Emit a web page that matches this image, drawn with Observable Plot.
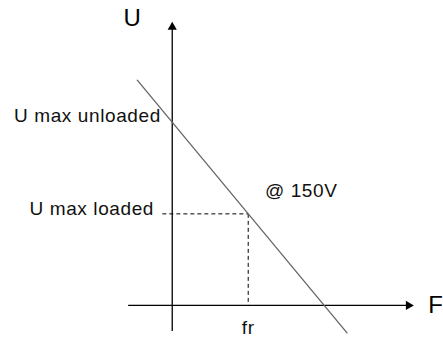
<!DOCTYPE html>
<html>
<head>
<meta charset="utf-8">
<script src="https://cdn.jsdelivr.net/npm/d3@7"></script>
<script src="https://cdn.jsdelivr.net/npm/@observablehq/plot@0.6"></script>
<style>
  html, body { margin: 0; padding: 0; background: #fff; }
  svg { display: block; }
</style>
</head>
<body>
<div id="chart"></div>
<script>
// Conceptual units: F in multiples of fr, U in multiples of "U max loaded"
const xDomain = [-2.26, 3.57];
const yDomain = [-0.35, 3.33];

// characteristic line U(F), endpoints
const lineF = [-0.46, 2.30];
const lineU = [2.46, -0.30];

// axes (start, end) in data units
const fAxis = [-0.58, 3.11];
const uAxis = [-0.28, 3.04];

// operating point
const fr = 1;
const uLoaded = 1;
const dashStartF = -0.13;

// labels
const labelText = ["U max unloaded", "U max loaded", "@ 150V", "fr"];
const labelF = [-0.15, -0.24, 1.22, 1.0];
const labelU = [2.07, 1.05, 1.25, -0.24];
const labelAnchor = ["end", "end", "start", "middle"];

const axisNames = ["U", "F"];
const axisNameF = [-0.64, 3.37];
const axisNameU = [3.14, 0.0];

const lineData = lineF.map((f, i) => ({F: f, U: lineU[i]}));
const labels = labelText.map((t, i) => ({t, F: labelF[i], U: labelU[i], a: labelAnchor[i]}));
const names = axisNames.map((t, i) => ({t, F: axisNameF[i], U: axisNameU[i]}));

const font = "'Liberation Sans', Arial, sans-serif";
const linkOpts = {x1: "x1", x2: "x2", y1: "y1", y2: "y2"};

const chart = Plot.plot({
  width: 443,
  height: 337,
  margin: 0,
  x: {domain: xDomain, axis: null},
  y: {domain: yDomain, axis: null},
  style: {fontFamily: font, background: "#fff", letterSpacing: "0.6px"},
  marks: [
    // axes
    Plot.link([{x1: fAxis[0], x2: fAxis[1], y1: 0, y2: 0}], {...linkOpts, stroke: "#000", strokeWidth: 1.3}),
    Plot.link([{x1: 0, x2: 0, y1: uAxis[0], y2: uAxis[1]}], {...linkOpts, stroke: "#000", strokeWidth: 1.3}),
    Plot.dot([{F: 0, U: uAxis[1]}], {x: "F", y: "U", symbol: "triangle", r: 3.4, fill: "#000", stroke: null}),
    Plot.dot([{F: fAxis[1], U: 0}], {x: "F", y: "U", symbol: "triangle", r: 3.4, fill: "#000", stroke: null, rotate: 90}),
    // dashed guides
    Plot.link([{x1: dashStartF, x2: fr, y1: uLoaded, y2: uLoaded}], {...linkOpts, stroke: "#000", strokeWidth: 1, strokeDasharray: "4,3"}),
    Plot.link([{x1: fr, x2: fr, y1: uLoaded, y2: 0}], {...linkOpts, stroke: "#000", strokeWidth: 1, strokeDasharray: "4,3"}),
    // characteristic
    Plot.line(lineData, {x: "F", y: "U", stroke: "#666", strokeWidth: 1.3}),
    // labels, one mark per anchor
    ...["start", "middle", "end"].map(a =>
      Plot.text(labels.filter(d => d.a === a), {x: "F", y: "U", text: "t", textAnchor: a, fontSize: 19, fill: "#111", fontFamily: font})
    ),
    Plot.text(names, {x: "F", y: "U", text: "t", textAnchor: "start", fontSize: 24, fill: "#000", fontFamily: font})
  ]
});

document.getElementById("chart").appendChild(chart);
</script>
</body>
</html>
